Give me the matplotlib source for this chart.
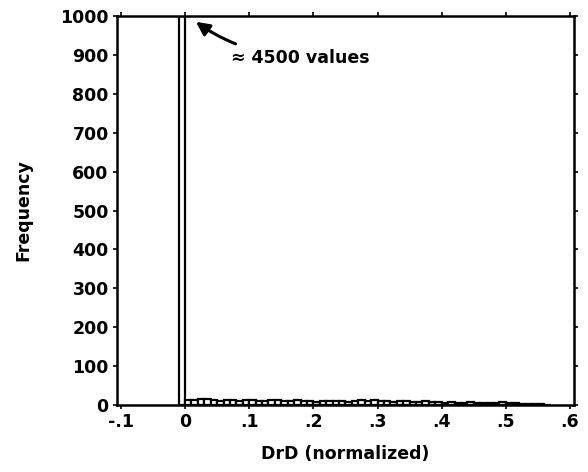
import matplotlib
matplotlib.use("Agg")
import matplotlib.pyplot as plt
import numpy as np

# histogram of DrD (normalized), bin width 0.01
bin_left = np.round(np.arange(-0.01, 0.57, 0.01), 3)
counts = [4500,
          12, 14, 16, 15, 13, 11, 12, 14, 10, 12,
          13, 11, 9, 12, 14, 10, 11, 12, 9, 10,
          8, 9, 10, 11, 9, 8, 10, 12, 9, 14,
          10, 9, 8, 9, 10, 8, 7, 9, 8, 7,
          6, 7, 5, 6, 7, 5, 4, 5, 6, 8,
          5, 4, 3, 3, 2, 2, 1]
xticks = [-0.1, 0, 0.1, 0.2, 0.3, 0.4, 0.5, 0.6]
xticklabels = ["-.1", "0", ".1", ".2", ".3", ".4", ".5", ".6"]
yticks = list(range(0, 1001, 100))

plt.rcParams["font.family"] = ["DejaVu Sans"]
plt.rcParams["font.weight"] = "bold"

fig = plt.figure(figsize=(5.88, 4.72), dpi=100)
ax = fig.add_axes([0.199, 0.142, 0.777, 0.824])

ax.bar(bin_left, counts, width=0.01, align="edge", facecolor="white",
       edgecolor="black", linewidth=1.6)

ax.set_xlim(-0.106, 0.606)
ax.set_ylim(0, 1000)
ax.set_xticks(xticks)
ax.set_xticklabels(xticklabels)
ax.set_yticks(yticks)
ax.tick_params(axis="both", labelsize=12.5, width=1.2, length=3,
               direction="out", pad=3)
ax.tick_params(top=True, right=True)
for lbl in ax.get_xticklabels() + ax.get_yticklabels():
    lbl.set_fontweight("bold")
for s in ax.spines.values():
    s.set_linewidth(1.8)

ax.set_xlabel("DrD (normalized)", fontsize=12.5, fontweight="bold", labelpad=10)
ax.set_ylabel("Frequency", fontsize=12.5, fontweight="bold", labelpad=20)

ax.annotate("\u2248 4500 values", xy=(0.017, 985), xytext=(0.072, 893),
            fontsize=12.5, fontweight="bold", va="center",
            arrowprops=dict(arrowstyle="-|>", color="black", lw=2.2,
                            mutation_scale=20,
                            connectionstyle="arc3,rad=-0.15",
                            shrinkA=4, shrinkB=0))

fig.savefig("out.png", dpi=100)
